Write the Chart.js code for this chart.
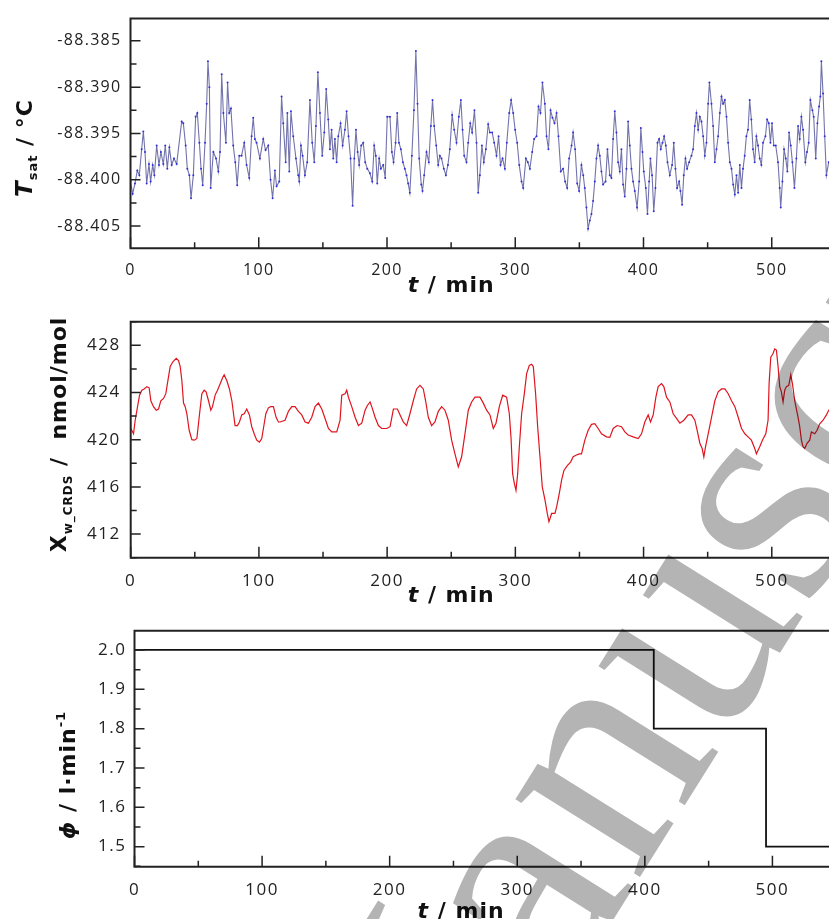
<!DOCTYPE html>
<html>
<head>
<meta charset="utf-8">
<script src="https://cdn.jsdelivr.net/npm/chart.js@4.4.1/dist/chart.umd.min.js"></script>
<style>
  html, body { margin: 0; padding: 0; background: #fff; width: 829px; height: 919px; overflow: hidden; }
  .panel { position: absolute; left: 0; }
</style>
</head>
<body>
<canvas id="tsat" class="panel" style="top:0px" width="930" height="300"></canvas>
<canvas id="xw" class="panel" style="top:300px" width="930" height="310"></canvas>
<canvas id="phi" class="panel" style="top:610px" width="930" height="309"></canvas>
<script>
// --- saturator temperature, t in min / T in degC ---
const tsatMin = [
  0, 1.7, 3.5, 5.3, 6.9, 8.7, 10.0, 11.3, 12.6, 14.4, 15.7, 17.3, 18.6, 20.4, 22.2, 23.7, 25.6, 27.1, 28.7, 30.3,
  32.1, 33.9, 36.0, 39.9, 41.2, 43.0, 44.3, 45.9, 47.2, 49.0, 50.8, 52.1, 53.7, 55.0, 56.3, 58.1, 59.4, 60.4, 61.5, 62.5,
  64.6, 66.7, 68.5, 69.8, 71.1, 72.4, 74.4, 75.7, 77.0, 78.3, 80.1, 81.7, 83.2, 84.8, 86.6, 88.7, 90.5, 92.6, 94.4, 95.7,
  97.0, 98.3, 100.9, 103.5, 105.3, 107.4, 109.2, 110.8, 112.6, 113.9, 116.0, 117.8, 119.1, 121.0, 122.3, 123.8, 125.1, 126.9, 129.0, 130.8,
  131.6, 132.9, 134.2, 136.0, 137.8, 139.9, 141.7, 143.3, 144.6, 146.1, 147.7, 149.5, 151.1, 152.6, 154.2, 155.5, 156.8, 158.1, 159.4, 160.7,
  162.0, 163.8, 165.4, 167.2, 168.5, 170.0, 171.6, 173.2, 174.5, 175.8, 177.1, 178.3, 179.9, 181.5, 183.0, 184.6, 186.7, 188.5, 190.0, 191.3,
  192.4, 193.9, 195.2, 197.1, 198.6, 200.2, 202.3, 203.8, 205.1, 206.7, 208.0, 209.3, 210.8, 212.4, 213.9, 215.2, 216.5, 217.8, 219.4, 221.0,
  222.5, 223.8, 225.1, 226.7, 227.7, 229.0, 230.8, 232.6, 234.2, 235.5, 236.8, 238.4, 239.9, 241.2, 242.5, 244.3, 245.9, 247.5, 249.0, 250.8,
  252.4, 254.2, 256.0, 257.6, 258.9, 260.2, 262.0, 263.3, 264.9, 266.4, 268.2, 269.8, 271.1, 272.4, 274.0, 275.5, 277.1, 278.9, 280.2, 282.0,
  283.6, 285.4, 287.0, 288.5, 290.1, 291.9, 293.4, 295.3, 296.8, 298.4, 299.9, 301.5, 303.1, 304.9, 306.2, 308.3, 309.8, 311.4, 313.2, 314.7,
  316.6, 318.1, 319.7, 321.2, 323.1, 324.4, 325.9, 327.5, 329.0, 330.6, 332.2, 333.7, 335.5, 337.3, 338.9, 340.5, 342.0, 343.9, 345.1, 346.7,
  348.3, 349.8, 351.6, 353.0, 354.2, 355.5, 356.8, 358.1, 359.4, 360.7, 362.0, 363.3, 364.6, 365.9, 367.2, 368.5, 370.4, 371.9, 373.7, 375.0,
  376.3, 377.6, 378.9, 380.2, 381.5, 382.8, 384.1, 385.4, 386.7, 388.0, 389.3, 390.6, 391.9, 393.2, 395.0, 396.6, 397.9, 399.2, 400.2, 401.8,
  403.1, 404.4, 405.4, 406.7, 408.0, 409.3, 410.9, 412.2, 413.5, 414.8, 416.1, 417.4, 418.7, 420.5, 422.3, 423.6, 424.9, 426.2, 427.8, 428.8,
  430.1, 431.4, 432.7, 434.0, 435.6, 437.4, 438.7, 440.0, 441.3, 442.6, 443.9, 445.2, 446.5, 447.8, 449.1, 450.4, 451.4, 453.0, 454.3, 455.6,
  456.9, 458.2, 459.5, 460.8, 462.1, 463.4, 464.7, 466.0, 467.3, 468.6, 469.9, 471.2, 472.5, 473.8, 475.1, 476.4, 477.6, 478.9, 480.2, 481.5,
  482.8, 484.1, 485.4, 486.7, 488.0, 489.3, 490.6, 491.9, 493.2, 495.1, 496.4, 497.7, 499.0, 500.2, 501.6, 503.1, 504.9, 506.2, 507.0, 508.3,
  509.6, 510.9, 512.2, 513.5, 514.8, 516.1, 517.7, 519.2, 520.5, 521.8, 523.1, 524.4, 526.2, 527.5, 528.8, 530.1, 531.7, 532.7, 534.3, 535.6,
  536.9, 537.9, 538.7, 540.0, 541.3, 542.6, 544.4, 547.0, 551.0
];
const tsatC = [
  -88.4002, -88.4015, -88.4004, -88.3990, -88.3995, -88.3967, -88.3948, -88.3970, -88.4004, -88.3983, -88.4002, -88.3984, -88.3995, -88.3963, -88.3984, -88.3970, -88.3983, -88.3963, -88.3988, -88.3965,
  -88.3984, -88.3977, -88.3983, -88.3937, -88.3939, -88.3963, -88.3988, -88.3995, -88.4020, -88.3995, -88.3932, -88.3928, -88.3960, -88.3988, -88.4006, -88.3960, -88.3918, -88.3872, -88.3900, -88.4009,
  -88.3970, -88.3977, -88.3991, -88.3970, -88.3886, -88.3928, -88.3960, -88.3895, -88.3928, -88.3923, -88.3963, -88.3981, -88.4006, -88.3974, -88.3974, -88.3960, -88.3984, -88.3998, -88.3953, -88.3933,
  -88.3956, -88.3960, -88.3977, -88.3956, -88.3968, -88.3963, -88.4000, -88.4020, -88.3990, -88.4007, -88.4002, -88.3910, -88.3939, -88.3981, -88.3928, -88.3991, -88.3926, -88.3953, -88.3977, -88.3995,
  -88.4002, -88.3963, -88.3974, -88.3995, -88.3981, -88.3914, -88.3960, -88.3981, -88.3942, -88.3884, -88.3928, -88.3974, -88.3949, -88.3902, -88.3935, -88.3967, -88.3946, -88.3977, -88.3956, -88.3981,
  -88.3953, -88.3939, -88.3963, -88.3946, -88.3926, -88.3953, -88.3977, -88.4028, -88.3977, -88.3946, -88.3970, -88.3984, -88.3963, -88.3960, -88.3981, -88.3988, -88.3993, -88.4002, -88.3963, -88.3974,
  -88.4004, -88.3977, -88.3988, -88.3984, -88.3998, -88.3932, -88.3932, -88.3970, -88.3981, -88.3960, -88.3928, -88.3960, -88.3967, -88.3981, -88.3988, -88.3995, -88.4004, -88.4014, -88.3974, -88.3925,
  -88.3861, -88.3918, -88.3977, -88.4005, -88.4012, -88.3995, -88.3970, -88.3981, -88.3942, -88.3914, -88.3942, -88.3963, -88.3984, -88.3974, -88.3977, -88.3988, -88.3995, -88.3984, -88.3967, -88.3930,
  -88.3946, -88.3960, -88.3932, -88.3914, -88.3946, -88.3974, -88.3981, -88.3960, -88.3939, -88.3949, -88.3925, -88.3960, -88.4014, -88.3995, -88.3963, -88.3981, -88.3967, -88.3940, -88.3949, -88.3949,
  -88.3960, -88.3974, -88.3953, -88.3984, -88.3977, -88.3988, -88.3960, -88.3928, -88.3914, -88.3928, -88.3946, -88.3960, -88.3984, -88.4002, -88.4009, -88.3977, -88.3981, -88.3988, -88.3970, -88.3956,
  -88.3953, -88.3921, -88.3928, -88.3895, -88.3918, -88.3953, -88.3967, -88.3925, -88.3933, -88.3939, -88.3928, -88.3953, -88.3991, -88.3988, -88.4002, -88.4009, -88.3977, -88.3963, -88.3949, -88.3967,
  -88.4004, -88.4012, -88.3984, -88.3995, -88.4009, -88.4030, -88.4053, -88.4044, -88.4037, -88.4023, -88.4002, -88.3977, -88.3963, -88.3974, -88.3991, -88.4005, -88.4002, -88.3967, -88.3995, -88.3998,
  -88.3956, -88.3926, -88.3949, -88.3981, -88.3991, -88.3967, -88.4005, -88.4018, -88.3988, -88.3937, -88.3963, -88.3988, -88.4002, -88.4012, -88.4030, -88.4002, -88.3944, -88.3970, -88.3991, -88.4009,
  -88.4037, -88.4002, -88.3977, -88.3995, -88.4034, -88.4009, -88.3960, -88.3956, -88.3967, -88.3960, -88.3953, -88.3963, -88.3981, -88.3995, -88.3984, -88.3960, -88.3988, -88.4009, -88.4002, -88.4012,
  -88.4027, -88.3995, -88.3977, -88.3988, -88.3981, -88.3974, -88.3967, -88.3942, -88.3928, -88.3946, -88.3932, -88.3937, -88.3953, -88.3974, -88.3960, -88.3918, -88.3895, -88.3918, -88.3942, -88.3981,
  -88.3967, -88.3953, -88.3928, -88.3910, -88.3918, -88.3914, -88.3932, -88.3960, -88.3981, -88.3988, -88.4005, -88.4016, -88.3995, -88.4014, -88.3984, -88.4009, -88.3988, -88.3974, -88.3953, -88.3946,
  -88.3914, -88.3935, -88.3967, -88.3981, -88.3953, -88.3963, -88.3977, -88.3984, -88.3960, -88.3953, -88.3935, -88.3939, -88.3960, -88.3939, -88.3963, -88.3963, -88.3981, -88.4009, -88.4030, -88.4002,
  -88.3967, -88.3977, -88.3991, -88.3949, -88.3963, -88.3981, -88.4009, -88.3977, -88.3942, -88.3956, -88.3932, -88.3946, -88.3981, -88.3970, -88.3960, -88.3914, -88.3925, -88.3932, -88.3977, -88.3939,
  -88.3921, -88.3910, -88.3872, -88.3907, -88.3953, -88.3995, -88.3981, -88.3975, -88.3985
];

// --- water mole fraction from CRDS, nmol/mol ---
const xwMin = [
  0.1, 2.2, 3.5, 5.3, 6.9, 8.7, 10.5, 12.6, 14.4, 15.7, 17.8, 19.9, 21.7, 23.5, 25.6, 27.4, 29.0, 30.8, 32.9, 35.5,
  37.3, 38.6, 39.9, 41.2, 42.5, 43.8, 45.6, 47.7, 49.7, 51.6, 53.4, 55.5, 57.3, 58.8, 60.7, 62.5, 63.8, 65.9, 67.7, 69.8,
  71.8, 72.9, 75.0, 77.0, 78.9, 80.2, 81.4, 83.3, 84.8, 86.6, 88.5, 90.5, 92.6, 94.4, 96.3, 98.3, 100.4, 102.2, 103.5, 105.4,
  107.4, 109.2, 111.3, 113.4, 115.2, 116.5, 120.4, 123.0, 125.6, 128.2, 130.8, 133.4, 136.0, 138.6, 141.2, 143.8, 146.4, 149.0, 151.6, 154.2,
  156.8, 160.7, 163.3, 164.6, 167.2, 168.5, 169.8, 172.4, 175.0, 177.6, 180.2, 182.8, 184.6, 186.7, 188.0, 190.6, 193.2, 195.8, 199.7, 202.3,
  204.9, 208.0, 210.1, 212.6, 215.2, 217.8, 220.4, 223.0, 225.6, 228.2, 230.0, 232.1, 234.7, 237.3, 239.9, 242.5, 245.1, 247.7, 250.3, 252.9,
  255.5, 258.1, 260.7, 263.3, 265.9, 268.5, 272.4, 275.0, 277.6, 280.2, 282.8, 284.9, 287.5, 290.1, 293.2, 295.3, 296.6, 297.9, 299.2, 300.5,
  301.8, 303.1, 304.9, 307.0, 308.8, 310.9, 312.7, 314.0, 315.8, 317.4, 319.2, 321.0, 323.1, 324.9, 326.2, 328.3, 330.9, 332.2, 334.2, 336.1,
  337.9, 340.5, 343.1, 345.1, 347.7, 349.8, 351.6, 354.2, 356.8, 359.4, 362.0, 364.6, 367.2, 371.1, 373.7, 376.3, 379.4, 382.8, 385.4, 388.0,
  391.9, 395.8, 398.4, 401.0, 403.6, 405.4, 407.5, 409.6, 411.4, 414.0, 415.8, 417.9, 420.5, 423.1, 425.7, 428.3, 431.4, 434.8, 437.4, 440.0,
  441.8, 443.9, 445.7, 447.0, 448.3, 450.4, 453.0, 455.6, 458.2, 460.8, 463.4, 466.0, 468.6, 471.2, 473.8, 476.4, 479.0, 481.5, 484.1, 486.7,
  488.0, 490.6, 492.7, 495.3, 497.1, 497.9, 499.2, 501.0, 502.3, 503.6, 504.9, 506.2, 507.5, 508.8, 510.1, 511.4, 513.2, 514.8, 516.1, 517.9,
  519.2, 520.5, 521.8, 523.1, 524.4, 525.7, 527.5, 529.6, 530.9, 533.5, 535.3, 537.4, 540.0, 542.6, 544.4, 548.0, 552.0
];
const xwNmol = [
  420.95, 420.5, 421.65, 422.78, 423.77, 424.2, 424.3, 424.5, 424.4, 423.3, 422.8, 422.5, 422.6, 423.3, 423.5, 423.9, 425.0, 426.2, 426.6, 426.9,
  426.7, 426.2, 425.0, 423.1, 422.8, 422.2, 420.8, 420.0, 419.96, 420.1, 421.9, 423.9, 424.2, 424.05, 423.3, 422.5, 422.8, 423.8, 424.2, 424.75,
  425.3, 425.5, 425.0, 424.3, 423.3, 422.2, 421.2, 421.2, 421.5, 422.1, 422.2, 422.6, 422.1, 421.1, 420.5, 419.96, 419.8, 420.1, 420.95, 422.2,
  422.7, 422.8, 422.8, 421.9, 421.5, 421.5, 421.65, 422.4, 422.8, 422.8, 422.4, 422.1, 421.5, 421.4, 421.9, 422.8, 423.1, 422.6, 421.8, 420.95,
  420.66, 420.66, 421.65, 423.77, 423.9, 424.2, 423.6, 422.8, 421.9, 421.2, 421.4, 422.5, 422.9, 423.2, 422.8, 421.9, 421.2, 420.95, 420.95, 421.1,
  422.6, 422.6, 422.1, 421.5, 421.2, 422.2, 423.3, 424.3, 424.6, 424.3, 423.3, 421.9, 421.2, 421.5, 422.4, 422.8, 422.5, 421.65, 419.96, 418.8,
  417.7, 418.55, 420.5, 422.5, 423.2, 423.6, 423.6, 423.1, 422.5, 422.1, 420.95, 421.4, 422.8, 423.77, 423.6, 422.2, 420.2, 417.1, 416.3, 415.7,
  417.1, 419.4, 422.2, 423.9, 425.6, 426.3, 426.4, 426.2, 423.9, 421.1, 418.55, 416.0, 414.9, 413.75, 413.05, 413.75, 413.75, 414.3, 415.4, 416.6,
  417.4, 417.8, 418.1, 418.55, 418.7, 418.8, 418.8, 419.96, 420.8, 421.3, 421.35, 420.95, 420.5, 420.24, 420.2, 420.95, 421.2, 421.1, 420.66, 420.4,
  420.24, 420.1, 420.5, 421.5, 422.1, 421.5, 422.1, 423.6, 424.5, 424.75, 424.5, 423.6, 423.2, 422.2, 421.8, 421.4, 421.65, 422.1, 422.1, 421.65,
  420.8, 419.7, 419.25, 418.55, 419.4, 420.5, 421.9, 423.3, 424.05, 424.3, 424.3, 423.9, 423.3, 422.8, 421.9, 420.95, 420.5, 420.24, 419.96, 419.25,
  418.8, 419.4, 419.96, 420.5, 421.65, 424.75, 427.0, 427.3, 427.7, 427.6, 426.2, 424.5, 424.05, 423.2, 424.2, 424.5, 424.6, 425.5, 424.75, 423.3,
  422.6, 421.9, 421.1, 419.96, 419.4, 419.25, 419.7, 419.96, 420.66, 420.5, 420.8, 421.35, 421.65, 422.1, 422.5, 422.6, 422.4
];

// --- carrier gas flow, l/min (set-point steps) ---
const phiMin = [0, 407, 407, 495, 495, 600];
const phiFlow = [2.0, 2.0, 1.8, 1.8, 1.5, 1.5];

// tick values
const timeTicks = [0, 100, 200, 300, 400, 500, 600];
const tsatTicks = [-88.405, -88.400, -88.395, -88.390, -88.385];
const xwTicks = [412, 416, 420, 424, 428];
const phiTicks = [1.5, 1.6, 1.7, 1.8, 1.9, 2.0];

const FONT_TICK = "'Open Sans', 'DejaVu Sans', sans-serif";
const FONT_TITLE = "'DejaVu Sans', sans-serif";

function toPoints(xs, ys) {
  return xs.map((x, i) => ({ x: x, y: ys[i] }));
}

// frame + inward major/minor ticks
const frameTicks = {
  id: 'frameTicks',
  afterDraw(chart, args, opts) {
    const { ctx, chartArea: a } = chart;
    const xs = chart.scales.x, ys = chart.scales.y;
    ctx.save();
    ctx.strokeStyle = '#222';
    ctx.lineWidth = 2;
    ctx.beginPath();
    ctx.moveTo(a.left - 1, a.top); ctx.lineTo(a.right, a.top);
    ctx.moveTo(a.left, a.top); ctx.lineTo(a.left, a.bottom); ctx.lineTo(a.right, a.bottom);
    ctx.lineTo(a.right, a.top);
    ctx.stroke();

    ctx.lineWidth = 1.5;
    ctx.beginPath();
    const ratioX = Math.round(opts.xMajor / opts.xMinor);
    for (let k = Math.ceil(xs.min / opts.xMinor - 1e-6); k * opts.xMinor <= xs.max + 1e-9; k++) {
      const px = xs.getPixelForValue(k * opts.xMinor);
      const len = (k % ratioX === 0) ? 11 : 6;
      ctx.moveTo(px, a.bottom); ctx.lineTo(px, a.bottom - len);
    }
    const ratioY = Math.round(opts.yMajor / opts.yMinor);
    const k0 = Math.ceil(ys.min / opts.yMinor - 1e-6), k1 = Math.floor(ys.max / opts.yMinor + 1e-6);
    for (let k = k0; k <= k1; k++) {
      const py = ys.getPixelForValue(k * opts.yMinor);
      const len = (Math.abs(k % ratioY) === 0) ? 10 : 6;
      ctx.moveTo(a.left, py); ctx.lineTo(a.left + len, py);
    }
    ctx.stroke();
    ctx.restore();
  }
};

// text made of runs with their own font and baseline shift (sub/superscripts)
function drawRuns(ctx, runs, x, y, angle) {
  ctx.save();
  ctx.translate(x, y);
  ctx.rotate(angle);
  ctx.letterSpacing = '1px';
  ctx.fillStyle = '#111';
  ctx.textAlign = 'left';
  ctx.textBaseline = 'alphabetic';
  let total = 0;
  runs.forEach(r => { ctx.font = r.font; total += ctx.measureText(r.text).width; });
  let cx = -total / 2;
  runs.forEach(r => {
    ctx.font = r.font;
    ctx.fillText(r.text, cx, r.dy || 0);
    cx += ctx.measureText(r.text).width;
  });
  ctx.restore();
}

const axisTitles = {
  id: 'axisTitles',
  afterDraw(chart, args, opts) {
    const ctx = chart.ctx, a = chart.chartArea;
    const tx = chart.scales.x.getPixelForValue(opts.xAt);
    drawRuns(ctx, [
      { text: 't', font: 'italic bold 22px ' + FONT_TITLE },
      { text: ' / min', font: 'bold 22px ' + FONT_TITLE }
    ], tx, a.bottom + opts.xOffset, 0);
    drawRuns(ctx, opts.yRuns, opts.yX, opts.yCenter, -Math.PI / 2);
  }
};

// diagonal grey watermark, one shared placement for all three canvases
const WATERMARK = { text: 'Manuscript', x: 410, y: 1245, angle: -58 * Math.PI / 180, size: 320 };
const watermark = {
  id: 'watermark',
  afterDraw(chart, args, opts) {
    const ctx = chart.ctx;
    ctx.save();
    ctx.globalCompositeOperation = 'multiply';
    ctx.translate(0, -opts.offsetY);
    ctx.translate(WATERMARK.x, WATERMARK.y);
    ctx.rotate(WATERMARK.angle);
    ctx.letterSpacing = '0px';
    ctx.font = WATERMARK.size + "px 'Liberation Serif', serif";
    ctx.fillStyle = '#b4b4b4';
    ctx.textBaseline = 'alphabetic';
    ctx.fillText(WATERMARK.text, 0, 0);
    ctx.restore();
  }
};

// tick labels are a bit spread out
const spacing = {
  id: 'spacing',
  beforeLayout(chart, args, opts) { chart.ctx.letterSpacing = opts.px + 'px'; },
  beforeDraw(chart, args, opts) { chart.ctx.letterSpacing = opts.px + 'px'; }
};

function fixedTicks(values) {
  return s => { s.ticks = values.map(v => ({ value: v })); };
}

function makePanel(id, cfg) {
  return new Chart(document.getElementById(id), {
    type: 'line',
    data: { datasets: cfg.datasets },
    options: {
      responsive: false,
      animation: false,
      events: [],
      layout: { padding: { top: cfg.top, right: 30, left: 0, bottom: 0 } },
      plugins: {
        legend: { display: false },
        tooltip: { enabled: false },
        spacing: { px: cfg.spacing },
        frameTicks: cfg.ticks,
        axisTitles: cfg.titles,
        watermark: { offsetY: cfg.offsetY }
      },
      scales: {
        x: {
          type: 'linear', min: 0, max: 600, bounds: 'data',
          grid: { display: false, drawTicks: false },
          border: { display: false },
          afterBuildTicks: fixedTicks(timeTicks),
          afterFit: s => { s.height = cfg.xHeight; },
          ticks: {
            padding: cfg.xPad, color: '#222',
            font: { family: FONT_TICK, size: cfg.tickSize },
            maxRotation: 0, autoSkip: false
          }
        },
        y: {
          type: 'linear', min: cfg.yMin, max: cfg.yMax, bounds: 'data',
          grid: { display: false, drawTicks: false },
          border: { display: false },
          afterBuildTicks: fixedTicks(cfg.yTicks),
          afterFit: s => { s.width = cfg.yWidth; },
          ticks: {
            padding: cfg.yPad, color: '#222', autoSkip: false,
            font: { family: FONT_TICK, size: cfg.tickSize },
            callback: cfg.yFormat
          }
        }
      }
    },
    plugins: [spacing, frameTicks, axisTitles, watermark]
  });
}

makePanel('tsat', {
  top: 13.3, xHeight: 51.7, yWidth: 130.5, offsetY: 0,
  yMin: -88.4074, yMax: -88.3826, yTicks: tsatTicks, yFormat: v => v.toFixed(3),
  tickSize: 16, spacing: 1.3, xPad: 13, yPad: 9,
  ticks: { xMajor: 100, xMinor: 50, yMajor: 0.005, yMinor: 0.0025 },
  titles: {
    xAt: 250, xOffset: 44, yX: 32, yCenter: 148,
    yRuns: [
      { text: 'T', font: 'italic bold 23px ' + FONT_TITLE },
      { text: 'sat', font: 'bold 13px ' + FONT_TITLE, dy: 5 },
      { text: ' / °C', font: 'bold 22px ' + FONT_TITLE }
    ]
  },
  datasets: [{
    data: toPoints(tsatMin, tsatC),
    borderColor: '#7272ac', borderWidth: 1.1,
    pointRadius: 1, pointBackgroundColor: '#3030e0', pointBorderWidth: 0,
    tension: 0
  }]
});

makePanel('xw', {
  top: 21.7, xHeight: 52.3, yWidth: 130.7, offsetY: 300,
  yMin: 410, yMax: 430, yTicks: xwTicks, yFormat: v => String(v),
  tickSize: 17, spacing: 1.5, xPad: 13, yPad: 10,
  ticks: { xMajor: 100, xMinor: 50, yMajor: 4, yMinor: 2 },
  titles: {
    xAt: 250, xOffset: 44, yX: 66, yCenter: 134.5,
    yRuns: [
      { text: 'X', font: 'bold 22px ' + FONT_TITLE },
      { text: 'w_CRDS', font: 'bold 12px ' + FONT_TITLE, dy: 6 },
      { text: ' /  nmol/mol', font: 'bold 22px ' + FONT_TITLE }
    ]
  },
  datasets: [{
    data: toPoints(xwMin, xwNmol),
    borderColor: '#e0141e', borderWidth: 1.2,
    pointRadius: 0, tension: 0
  }]
});

makePanel('phi', {
  top: 20.7, xHeight: 52.3, yWidth: 134.5, offsetY: 610,
  yMin: 1.449, yMax: 2.049, yTicks: phiTicks, yFormat: v => v.toFixed(1),
  tickSize: 17, spacing: 1.5, xPad: 13, yPad: 8,
  ticks: { xMajor: 100, xMinor: 50, yMajor: 0.1, yMinor: 0.05 },
  titles: {
    xAt: 256, xOffset: 51, yX: 75, yCenter: 165,
    yRuns: [
      { text: 'ϕ', font: 'italic bold 22px ' + FONT_TITLE },
      { text: ' / l·min', font: 'bold 22px ' + FONT_TITLE },
      { text: '-1', font: 'bold 13px ' + FONT_TITLE, dy: -10 }
    ]
  },
  datasets: [{
    data: toPoints(phiMin, phiFlow),
    borderColor: '#111', borderWidth: 1.8,
    pointRadius: 0, tension: 0
  }]
});
</script>
</body>
</html>
